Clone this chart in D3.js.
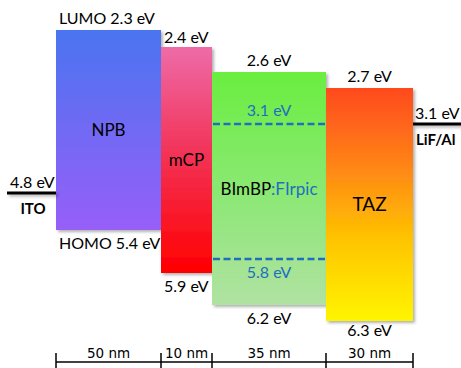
<!DOCTYPE html>
<html>
<head>
<meta charset="utf-8">
<script src="https://cdn.jsdelivr.net/npm/d3@7"></script>
<style>
  html, body { margin: 0; padding: 0; background: #fff; }
  svg { display: block; }
  text { font-family: Lato, "Liberation Sans", sans-serif; }
</style>
</head>
<body>
<div id="chart"></div>
<script>
// layer stack
const layers = ["NPB", "mCP", "BImBP", "TAZ"];
const thickness = [50, 10, 35, 30];   // nm
const lumo = [2.3, 2.4, 2.6, 2.7];    // eV
const homo = [5.4, 5.9, 6.2, 6.3];    // eV
// electrodes
const electrodes = ["ITO", "LiF/Al"];
const workFunction = [4.8, 3.1];
// dopant inside BImBP
const dopant = "FIrpic";
const dopantLevels = [3.1, 5.8];

const width = 461, height = 368;
const svg = d3.select('#chart').append('svg')
    .attr('width', width)
    .attr('height', height);

// schematic (piecewise) scales, like the original drawing
const cum = [0];
thickness.forEach(t => cum.push(cum[cum.length - 1] + t));
const x = d3.scaleLinear().domain(cum).range([56, 161, 212, 326, 413]);

const levels = Array.from(new Set([...lumo, ...homo, ...workFunction, ...dopantLevels])).sort(d3.ascending);
// 2.3 2.4 2.6 2.7 3.1 4.8 5.4 5.8 5.9 6.2 6.3
const y = d3.scaleLinear().domain(levels)
    .range([30, 47, 72, 88, 124, 193, 230, 259, 273, 305, 321]);

const blue = '#1f6fbf';
const gradStops = [
    [['0%', '#4a74f0'], ['100%', '#975ff8']],
    [['0%', '#ee6ba8'], ['45%', '#f2355a'], ['100%', '#ff0000']],
    [['0%', '#6aee40'], ['50%', '#8ae872'], ['100%', '#b0e2a2']],
    [['0%', '#ff4a1e'], ['30%', '#ff7e18'], ['65%', '#ffc400'], ['100%', '#fff500']]
];

const defs = svg.append('defs');
gradStops.forEach((stops, i) => {
    const g = defs.append('linearGradient')
        .attr('id', 'grad' + i)
        .attr('x1', 0).attr('y1', 0).attr('x2', 0).attr('y2', 1);
    stops.forEach(s => g.append('stop').attr('offset', s[0]).attr('stop-color', s[1]));
});
const shadow = defs.append('filter').attr('id', 'shadow')
    .attr('filterUnits', 'userSpaceOnUse')
    .attr('x', 0).attr('y', 0).attr('width', width).attr('height', height);
shadow.append('feDropShadow')
    .attr('dx', 2).attr('dy', 2).attr('stdDeviation', 1.5)
    .attr('flood-color', '#000').attr('flood-opacity', 0.3);

const data = layers.map((name, i) => ({
    name, i, x0: x(cum[i]), x1: x(cum[i + 1]), lumo: lumo[i], homo: homo[i]
}));

// energy labels (drawn first, boxes may cover their ends)
const fmt = d3.format('.1f');
svg.append('g').selectAll('text')
    .data(data)
    .enter().append('text')
    .attr('x', d => d.i < 2 ? d.x0 + 3 : (d.x0 + d.x1) / 2)
    .attr('y', d => y(d.lumo) - (d.i === 1 ? 4 : 6))
    .attr('text-anchor', d => d.i < 2 ? 'start' : 'middle')
    .attr('font-size', 16)
    .text(d => (d.i === 0 ? 'LUMO ' : '') + fmt(d.lumo) + ' eV');

svg.append('g').selectAll('text')
    .data(data)
    .enter().append('text')
    .attr('x', d => d.i < 2 ? d.x0 + 3 : (d.x0 + d.x1) / 2)
    .attr('y', d => y(d.homo) + (d.i === 3 ? 15 : 19))
    .attr('text-anchor', d => d.i < 2 ? 'start' : 'middle')
    .attr('font-size', 16)
    .text(d => (d.i === 0 ? 'HOMO ' : '') + fmt(d.homo) + ' eV');

// boxes
svg.append('g').selectAll('rect')
    .data(data)
    .enter().append('rect')
    .attr('x', d => d.x0)
    .attr('y', d => y(d.lumo))
    .attr('width', d => d.x1 - d.x0)
    .attr('height', d => y(d.homo) - y(d.lumo))
    .attr('fill', d => `url(#grad${d.i})`)
    .attr('filter', 'url(#shadow)');

// layer names
svg.append('g').selectAll('text')
    .data(data.filter(d => d.name !== 'BImBP'))
    .enter().append('text')
    .attr('x', d => (d.x0 + d.x1) / 2)
    .attr('y', d => (y(d.lumo) + y(d.homo)) / 2 + 6)
    .attr('text-anchor', 'middle')
    .attr('font-size', d => d.name === 'TAZ' ? 19 : 17)
    .attr('fill', '#000')
    .text(d => d.name);

const host = data[2];
const hostLabel = svg.append('text')
    .attr('x', (host.x0 + host.x1) / 2)
    .attr('y', (y(host.lumo) + y(host.homo)) / 2 + 6)
    .attr('text-anchor', 'middle')
    .attr('font-size', 17);
hostLabel.append('tspan').attr('fill', '#000').text(host.name);
hostLabel.append('tspan').attr('fill', blue).text(':' + dopant);

// dopant levels (dashed)
svg.append('g').selectAll('line')
    .data(dopantLevels)
    .enter().append('line')
    .attr('x1', host.x0 + 1).attr('x2', host.x1)
    .attr('y1', d => y(d)).attr('y2', d => y(d))
    .attr('stroke', blue)
    .attr('stroke-width', 2.5)
    .attr('stroke-dasharray', '7,3.5');

svg.append('g').selectAll('text')
    .data(dopantLevels)
    .enter().append('text')
    .attr('x', (host.x0 + host.x1) / 2)
    .attr('y', (d, i) => i === 0 ? y(d) - 8 : y(d) + 19)
    .attr('text-anchor', 'middle')
    .attr('font-size', 16)
    .attr('fill', blue)
    .text(d => fmt(d) + ' eV');

// electrodes
const elec = [
    { name: electrodes[0], e: workFunction[0], xa: 7, xb: x(cum[0]), tx: 10, nx: 33, anchor: 'middle' },
    { name: electrodes[1], e: workFunction[1], xa: x(cum[cum.length - 1]), xb: width, tx: 415, nx: 416, anchor: 'start' }
];
const eg = svg.append('g').selectAll('g')
    .data(elec)
    .enter().append('g');
eg.append('line')
    .attr('x1', d => d.xa).attr('x2', d => d.xb)
    .attr('y1', d => y(d.e)).attr('y2', d => y(d.e))
    .attr('stroke', '#000')
    .attr('stroke-width', 3)
    .attr('filter', 'url(#shadow)');
eg.append('text')
    .attr('x', d => d.tx)
    .attr('y', d => y(d.e) - 5)
    .attr('font-size', 16)
    .text(d => fmt(d.e) + ' eV');
eg.append('text')
    .attr('x', d => d.nx)
    .attr('y', d => y(d.e) + 21)
    .attr('text-anchor', d => d.anchor)
    .attr('font-size', 15)
    .attr('font-weight', 'bold')
    .text(d => d.name);

// thickness axis
const axisY = 362;
const ax = svg.append('g');
ax.append('line')
    .attr('x1', x(cum[0])).attr('x2', x(cum[cum.length - 1]))
    .attr('y1', axisY).attr('y2', axisY)
    .attr('stroke', '#000').attr('stroke-width', 1.5);
ax.selectAll('.tick')
    .data(cum)
    .enter().append('line')
    .attr('x1', d => x(d)).attr('x2', d => x(d))
    .attr('y1', axisY - 9).attr('y2', height)
    .attr('stroke', '#000').attr('stroke-width', 1.5);
ax.selectAll('text')
    .data(thickness)
    .enter().append('text')
    .attr('x', (d, i) => (x(cum[i]) + x(cum[i + 1])) / 2)
    .attr('y', axisY - 4)
    .attr('text-anchor', 'middle')
    .style('font-family', '"DejaVu Sans", Verdana, sans-serif')
    .attr('font-size', 13.5)
    .text(d => d + ' nm');
</script>
</body>
</html>
